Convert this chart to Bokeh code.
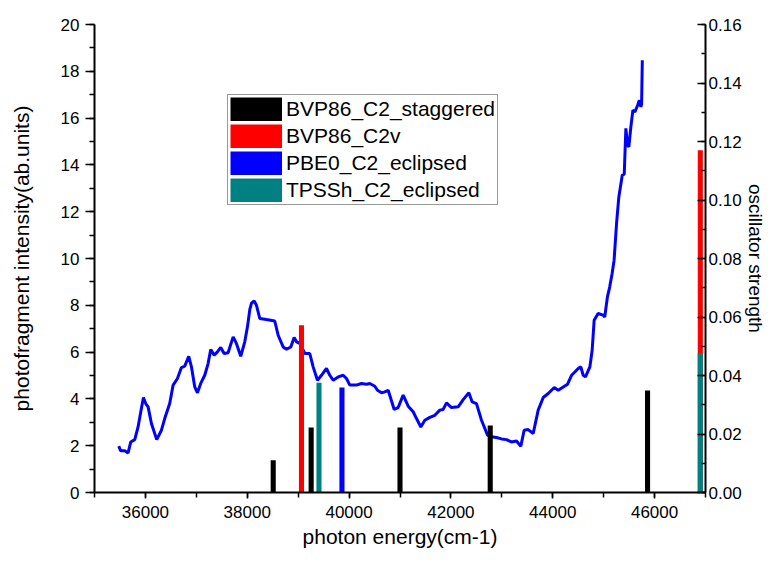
import numpy as np
from bokeh.plotting import figure
from bokeh.models import (Range1d, LinearAxis, SingleIntervalTicker, PrintfTickFormatter,
                          Legend, LegendItem)
from bokeh.embed import file_html
from bokeh.resources import INLINE

# experimental photofragment spectrum (left axis)
curve_x = [35476, 35515, 35593, 35660, 35712, 35790, 35856, 35908, 35961, 36006,
           36053, 36118, 36222, 36314, 36379, 36477, 36544, 36629, 36707, 36772,
           36851, 36904, 36969, 37022, 37086, 37165, 37231, 37283, 37350, 37414,
           37479, 37545, 37624, 37723, 37787, 37872, 37951, 38004, 38049, 38082,
           38135, 38181, 38246, 38378, 38540, 38607, 38705, 38770, 38855, 38921,
           38967, 39032, 39130, 39228, 39294, 39379, 39458, 39556, 39621, 39687,
           39786, 39884, 39949, 40014, 40145, 40243, 40342, 40407, 40505, 40558,
           40637, 40700, 40768, 40886, 40964, 41062, 41161, 41259, 41324, 41409,
           41487, 41586, 41684, 41782, 41848, 41913, 42012, 42143, 42241, 42352,
           42418, 42502, 42601, 42719, 42797, 42895, 42994, 43092, 43190, 43288,
           43373, 43438, 43517, 43616, 43714, 43813, 43911, 44029, 44108, 44206,
           44291, 44369, 44434, 44500, 44551, 44598, 44643, 44729, 44774, 44813,
           44891, 44989, 45021, 45074, 45119, 45166, 45205, 45253, 45298, 45365,
           45404, 45436, 45469, 45495, 45534, 45574, 45614, 45667, 45700, 45731,
           45745, 45759]
curve_y = [1.98, 1.78, 1.78, 1.69, 2.16, 2.26, 2.80, 3.44, 4.06, 3.80,
           3.66, 2.95, 2.26, 2.66, 3.16, 3.80, 4.59, 4.87, 5.34, 5.40,
           5.82, 5.37, 4.51, 4.26, 4.66, 5.01, 5.51, 6.11, 5.87, 6.01,
           6.20, 5.94, 5.97, 6.65, 6.37, 5.82, 6.44, 7.08, 7.80, 8.08,
           8.19, 8.00, 7.44, 7.39, 7.33, 6.72, 6.22, 6.12, 6.22, 6.62,
           6.44, 6.37, 5.94, 5.94, 5.37, 4.80, 5.01, 5.30, 5.01, 4.80,
           4.94, 5.01, 4.87, 4.59, 4.59, 4.66, 4.63, 4.66, 4.54, 4.37,
           4.26, 4.30, 4.37, 3.55, 3.63, 4.16, 3.69, 3.45, 3.16, 2.80,
           3.09, 3.21, 3.30, 3.52, 3.55, 3.83, 3.63, 3.66, 3.97, 4.26,
           3.87, 3.80, 3.09, 2.45, 2.38, 2.35, 2.29, 2.26, 2.16, 2.20,
           1.98, 2.66, 2.69, 2.52, 3.52, 4.06, 4.23, 4.49, 4.37, 4.51,
           4.63, 5.01, 5.15, 5.30, 5.37, 5.01, 4.94, 5.37, 6.08, 7.36,
           7.65, 7.58, 7.50, 8.36, 8.79, 9.36, 9.93, 11.50, 12.63, 13.56,
           13.60, 15.56, 14.84, 14.77, 15.62, 16.34, 16.26, 16.55, 16.76, 16.48,
           16.60, 18.47]

# calculated oscillator strengths (right axis)
staggered_x = [38510, 39255, 41000, 42772, 45862]
staggered_f = [0.0110, 0.0222, 0.0222, 0.0229, 0.0349]
c2v_x = [39065, 46898]
c2v_f = [0.0572, 0.1170]
pbe0_x = [39860]
pbe0_f = [0.0359]
tpssh_x = [39409, 46898]
tpssh_f = [0.0375, 0.0477]

series_names = ["BVP86_C2_staggered", "BVP86_C2v", "PBE0_C2_eclipsed", "TPSSh_C2_eclipsed"]
series_colors = ["#000000", "#FF0000", "#0000FF", "#008080"]

FONT = "Liberation Sans"

p = figure(width=768, height=552, x_range=Range1d(35000, 47000), y_range=Range1d(0, 20),
           output_backend="svg", toolbar_location=None,
           min_border_left=94, min_border_right=61, min_border_top=24, min_border_bottom=60)
p.extra_y_ranges = {"osc": Range1d(0, 0.16)}
p.outline_line_color = None
p.xgrid.visible = False
p.ygrid.visible = False
p.background_fill_color = "white"
p.border_fill_color = "white"

p.line(curve_x, curve_y, line_color="#0000FF", line_width=3)

bar_w = 100
for xs, fs, col in [(staggered_x, staggered_f, series_colors[0]),
                    (c2v_x, c2v_f, series_colors[1]),
                    (pbe0_x, pbe0_f, series_colors[2]),
                    (tpssh_x, tpssh_f, series_colors[3])]:
    p.vbar(x=xs, top=fs, bottom=0, width=bar_w, fill_color=col, line_color=None,
           y_range_name="osc")

# legend swatches: invisible (NaN) thick line renderers give full-size colour blocks
nan_pt = np.array([np.nan])
swatches = [p.line(x=nan_pt, y=nan_pt, line_color=c, line_width=24, line_cap="butt")
            for c in series_colors]

# axes
xa = p.xaxis[0]
xa.ticker = SingleIntervalTicker(interval=2000, num_minor_ticks=2)
xa.formatter = PrintfTickFormatter(format="%d")
xa.axis_label = "photon energy(cm-1)"

ya = p.yaxis[0]
ya.ticker = SingleIntervalTicker(interval=2, num_minor_ticks=2)
ya.axis_label = "photofragment intensity(ab.units)"

ra = LinearAxis(y_range_name="osc", axis_label="oscillator strength",
                ticker=SingleIntervalTicker(interval=0.02, num_minor_ticks=2),
                formatter=PrintfTickFormatter(format="%.2f"))
p.add_layout(ra, "right")

for ax in (xa, ya, ra):
    ax.axis_line_color = "black"
    ax.axis_line_width = 2
    ax.major_tick_line_color = "black"
    ax.minor_tick_line_color = "black"
    ax.major_tick_line_width = 1.5
    ax.minor_tick_line_width = 1.5
    ax.major_label_text_font = FONT
    ax.major_label_text_font_size = "17px"
    ax.major_label_text_color = "black"
    ax.axis_label_text_font = FONT
    ax.axis_label_text_font_size = "21px"
    ax.axis_label_text_font_style = "normal"
    ax.axis_label_text_color = "black"

xa.major_tick_in = 0
xa.major_tick_out = 6
xa.minor_tick_in = 0
xa.minor_tick_out = 5
xa.major_label_standoff = 7
xa.axis_label_standoff = 4

ya.major_tick_in = 0
ya.major_tick_out = 9
ya.minor_tick_in = 0
ya.minor_tick_out = 5
ya.major_label_standoff = 6
ya.axis_label_standoff = 25

ra.major_tick_in = 8
ra.major_tick_out = 0
ra.minor_tick_in = 4
ra.minor_tick_out = 0
ra.major_label_standoff = 3
ra.axis_label_standoff = 0
ra.axis_label_text_font_size = "19px"

legend = Legend(items=[LegendItem(label=n, renderers=[r]) for n, r in zip(series_names, swatches)],
                location=(133, 287), orientation="vertical",
                glyph_width=52, glyph_height=24, label_height=24, label_standoff=4,
                spacing=3, padding=2, margin=0,
                label_text_font=FONT, label_text_font_size="21px", label_text_color="black",
                border_line_color="#333333", border_line_width=1.5,
                background_fill_color="white", background_fill_alpha=1.0)
p.add_layout(legend)

open("out.html", "w").write(file_html(p, INLINE))
